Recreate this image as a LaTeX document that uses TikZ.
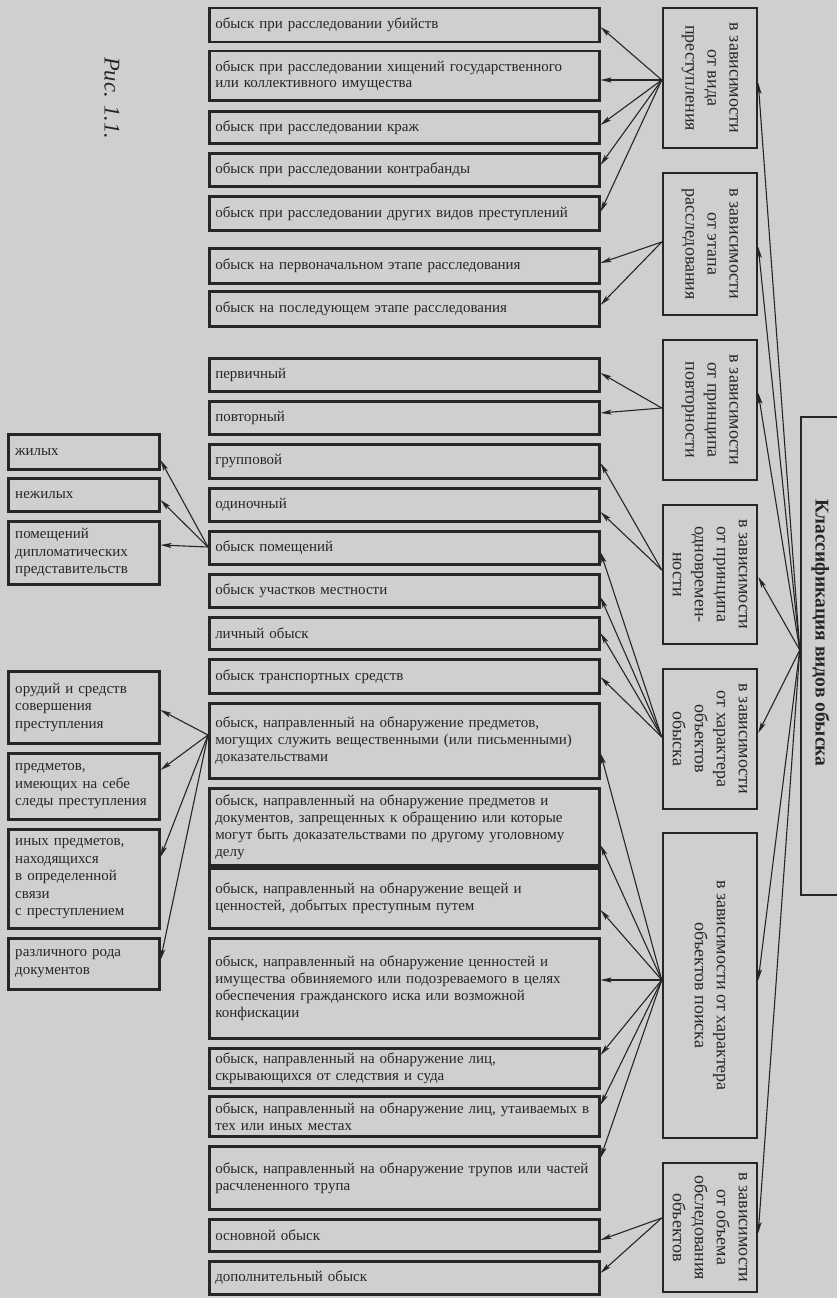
\documentclass[tikz,border=0pt]{standalone}
\usepackage{fontspec}
\setmainfont{Liberation Serif}
\usetikzlibrary{arrows.meta}
\definecolor{paper}{RGB}{207,207,205}
\definecolor{ink}{RGB}{38,38,38}
\begin{document}
\begin{tikzpicture}[x=1pt,y=-1pt,
  frame/.style={draw=ink, line width=2.5pt, fill=paper, text=ink},
  item/.style={frame, anchor=north west, minimum width=390pt, text width=378pt, inner xsep=6pt, inner ysep=0pt, align=left, font=\fontsize{15}{17}\selectfont},
  side/.style={frame, anchor=north west, minimum width=151pt, text width=137pt, inner xsep=7pt, inner ysep=0pt, align=left, font=\fontsize{15}{17.5}\selectfont},
  crit/.style={frame, rotate=-90, minimum height=94pt, inner sep=0pt, align=center, font=\fontsize{18}{22}\selectfont},
  arr/.style={draw=ink, line width=1.1pt, -{Stealth[length=11pt,width=5pt,inset=2.5pt]}}]
\useasboundingbox (0,0) rectangle (837,1298);
\fill[paper] (0,0) rectangle (837,1298);

% figure label
\node[rotate=-90, text=ink, font=\itshape\fontsize{22.5}{25}\selectfont] (fig) at (112,98) {Рис. 1.1.};

% main box
\node[frame, rotate=-90, minimum width=478pt, minimum height=39pt, inner sep=0pt, font=\bfseries\fontsize{19.5}{22}\selectfont] (M) at (820.5,656) {Классификация видов обыска\hspace*{46pt}};

% criteria boxes
\node[crit, minimum width=140pt] (A) at (710,78) {в зависимости\\от вида\\преступления};
\node[crit, minimum width=142pt] (B) at (710,244) {в зависимости\\от этапа\\расследования};
\node[crit, minimum width=140pt] (C) at (710,410) {в зависимости\\от принципа\\повторности};
\node[crit, minimum width=139pt] (D) at (710,574.5) {в зависимости\\от принципа\\одновремен-\\ности};
\node[crit, minimum width=140pt] (E) at (710,739) {в зависимости\\от характера\\объектов\\обыска};
\node[crit, minimum width=305pt] (F) at (710,985.5) {в зависимости от характера\\объектов поиска};
\node[crit, minimum width=129pt] (G) at (710,1227.5) {в зависимости\\от объема\\обследования\\объектов};

% middle items
\node[item, minimum height=34pt] (i1) at (208,7) {обыск при расследовании убийств};
\node[item, minimum height=49pt] (i2) at (208,50) {обыск при расследовании хищений государственного\\или коллективного имущества};
\node[item, minimum height=32pt] (i3) at (208,110) {обыск при расследовании краж};
\node[item, minimum height=33pt] (i4) at (208,152) {обыск при расследовании контрабанды};
\node[item, minimum height=34pt] (i5) at (208,195) {обыск при расследовании других видов преступлений};
\node[item, minimum height=35pt] (i6) at (208,247) {обыск на первоначальном этапе расследования};
\node[item, minimum height=35pt] (i7) at (208,290) {обыск на последующем этапе расследования};
\node[item, minimum height=33pt] (i8) at (208,357) {первичный};
\node[item, minimum height=33pt] (i9) at (208,400) {повторный};
\node[item, minimum height=34pt] (i10) at (208,443) {групповой};
\node[item, minimum height=33pt] (i11) at (208,487) {одиночный};
\node[item, minimum height=33pt] (i12) at (208,530) {обыск помещений};
\node[item, minimum height=33pt] (i13) at (208,573) {обыск участков местности};
\node[item, minimum height=32pt] (i14) at (208,616) {личный обыск};
\node[item, minimum height=34pt] (i15) at (208,658) {обыск транспортных средств};
\node[item, minimum height=75pt] (i16) at (208,702) {обыск, направленный на обнаружение предметов,\\могущих служить вещественными (или письменными)\\доказательствами};
\node[item, minimum height=77pt] (i17) at (208,787) {обыск, направленный на обнаружение предметов и\\документов, запрещенных к обращению или которые\\могут быть доказательствами по другому уголовному\\делу};
\node[item, minimum height=60pt] (i18) at (208,867) {обыск, направленный на обнаружение вещей и\\ценностей, добытых преступным путем};
\node[item, minimum height=100pt] (i19) at (208,937) {обыск, направленный на обнаружение ценностей и\\имущества обвиняемого или подозреваемого в целях\\обеспечения гражданского иска или возможной\\конфискации};
\node[item, minimum height=40pt] (i20) at (208,1047) {обыск, направленный на обнаружение лиц,\\скрывающихся от следствия и суда};
\node[item, minimum height=40pt] (i21) at (208,1095) {обыск, направленный на обнаружение лиц, утаиваемых в\\тех или иных местах};
\node[item, minimum height=63pt] (i22) at (208,1145) {обыск, направленный на обнаружение трупов или частей\\расчлененного трупа};
\node[item, minimum height=32pt] (i23) at (208,1218) {основной обыск};
\node[item, minimum height=33pt] (i24) at (208,1260) {дополнительный обыск};

% left boxes
\node[side, minimum height=35pt] (L1) at (7,433) {жилых};
\node[side, minimum height=33pt] (L2) at (7,477) {нежилых};
\node[side, minimum height=63pt] (L3) at (7,520) {помещений\\дипломатических\\представительств};
\node[side, minimum height=72pt] (L4) at (7,670) {орудий и средств\\совершения\\преступления};
\node[side, minimum height=66pt] (L5) at (7,752) {предметов,\\имеющих на себе\\следы преступления};
\node[side, minimum height=99pt] (L6) at (7,828) {иных предметов,\\находящихся\\в определенной\\связи\\с преступлением};
\node[side, minimum height=51pt] (L7) at (7,937) {различного рода\\документов};

% connectors: main -> criteria
\foreach \t/\y in {A/83, B/247, C/393, D/577, E/733, F/980, G/1233}
  \draw[arr] (M.south |- 0,650) -- (\t.north |- 0,\y);
% criteria -> items
\foreach \t/\y in {i1/27, i2/80, i3/125, i4/165, i5/212}
  \draw[arr] (A.south |- 0,80) -- (\t.east |- 0,\y);
\foreach \t/\y in {i6/263, i7/305}
  \draw[arr] (B.south |- 0,242) -- (\t.east |- 0,\y);
\foreach \t/\y in {i8/373, i9/413}
  \draw[arr] (C.south |- 0,408) -- (\t.east |- 0,\y);
\foreach \t/\y in {i10/463, i11/512}
  \draw[arr] (D.south |- 0,570) -- (\t.east |- 0,\y);
\foreach \t/\y in {i12/552, i13/597, i14/633, i15/677}
  \draw[arr] (E.south |- 0,737) -- (\t.east |- 0,\y);
\foreach \t/\y in {i16/753, i17/845, i18/910, i19/980, i20/1055, i21/1105, i22/1158}
  \draw[arr] (F.south |- 0,980) -- (\t.east |- 0,\y);
\foreach \t/\y in {i23/1240, i24/1273}
  \draw[arr] (G.south |- 0,1218) -- (\t.east |- 0,\y);
% items -> left boxes
\foreach \t/\y in {L1/460, L2/500, L3/545}
  \draw[arr] (i12.west |- 0,547) -- (\t.east |- 0,\y);
\foreach \t/\y in {L4/710, L5/770, L6/857, L7/960}
  \draw[arr] (i16.west |- 0,735) -- (\t.east |- 0,\y);
\end{tikzpicture}
\end{document}
